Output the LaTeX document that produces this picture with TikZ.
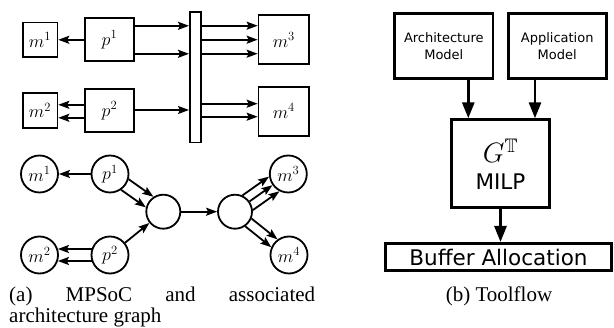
\RequirePackage{fix-cm}
\documentclass[tikz,border=0pt]{standalone}
\usepackage{amssymb}
\usepackage{fontspec}
\newfontfamily\capfont{Liberation Serif}
\newfontfamily\boxfont{DejaVu Sans}
\usetikzlibrary{arrows.meta,calc}
\newcommand\parr[5]{\draw[la,shorten <=#4pt,shorten >=#5pt] ($(#1)!#3!90:(#2)$) -- ($(#2)!#3!-90:(#1)$);}
\newcommand\capsetup{\capfont\fontsize{21}{21}\selectfont}
\begin{document}
\begin{tikzpicture}[x=1pt,y=-1pt,
  bx/.style={draw, line width=1.8pt, inner sep=0pt, font=\fontsize{18}{20}\selectfont},
  cn/.style={draw, circle, line width=1.8pt, inner sep=0pt, minimum size=37pt, font=\fontsize{18}{20}\selectfont},
  cs/.style={draw, circle, line width=1.8pt, inner sep=0pt, minimum size=34pt},
  la/.style={line width=1.8pt, -{Stealth[length=11pt,width=8pt,inset=2pt]}},
  rb/.style={draw, line width=2.8pt, inner sep=0pt, align=center, font=\boxfont\fontsize{13}{16.7}\selectfont},
  ra/.style={line width=2.8pt, -{Triangle[length=16pt,width=12pt]}},
  captxt/.style={font=\capsetup, inner sep=0pt}
]
\useasboundingbox (0,0) rectangle (614,328);
% ---------- MPSoC ----------
\node[bx, minimum width=34.8pt, minimum height=34.8pt] (m1) at (40,40) {$m^1$};
\node[bx, minimum width=34.8pt, minimum height=34.8pt] (m2) at (40,110.3) {$m^2$};
\node[bx, minimum width=49.2pt, minimum height=43.2pt] (p1) at (109.5,39.8) {$p^1$};
\node[bx, minimum width=49.2pt, minimum height=43.2pt] (p2) at (109.5,110.8) {$p^2$};
\node[bx, minimum width=11.2pt, minimum height=130.5pt] (bus) at (195.5,77.2) {};
\node[bx, minimum width=50.5pt, minimum height=48.9pt] (m3) at (283.8,39.7) {$m^3$};
\node[bx, minimum width=50.5pt, minimum height=48.9pt] (m4) at (283.8,111.2) {$m^4$};

\draw[la] (p1.west) -- (p1.west -| m1.east);
\foreach \o in {-14,14}
  \draw[la] ($(p1.east)+(0,\o)$) -- ($(bus.west |- p1.east)+(0,\o)$);
\foreach \o in {-14,0,14}
  \draw[la] ($(bus.east |- m3.west)+(0,\o)$) -- ($(m3.west)+(0,\o)$);
\foreach \o in {-6,7}
  \draw[la] ($(p2.west)+(0,\o)$) -- ($(m2.east |- p2.west)+(0,\o)$);
\draw[la] ($(p2.east)+(0,-0.8)$) -- ($(bus.west |- p2.east)+(0,-0.8)$);
\foreach \o in {-7.5,5.5}
  \draw[la] ($(bus.east |- m4.west)+(0,\o)$) -- ($(m4.west)+(0,\o)$);

% ---------- architecture graph ----------
\node[cn] (cm1) at (39.5,174) {$m^1$};
\node[cn] (cp1) at (110,174) {$p^1$};
\node[cn] (cm2) at (39.5,255) {$m^2$};
\node[cn] (cp2) at (110,255) {$p^2$};
\node[cs] (cl) at (163.3,211.7) {};
\node[cs] (cr) at (235,211.7) {};
\node[cn] (cm3) at (288.3,174) {$m^3$};
\node[cn] (cm4) at (289,255) {$m^4$};

\draw[la] (cp1) -- (cm1);
\parr{cp1}{cl}{6.5pt}{18.2}{16.7}
\parr{cp1}{cl}{-6.5pt}{18.2}{16.7}
\parr{cp2}{cm2}{6pt}{18.4}{18.4}
\parr{cp2}{cm2}{-6pt}{18.4}{18.4}
\draw[la] (cp2) -- (cl);
\draw[la] (cl) -- (cr);
\parr{cr}{cm3}{9pt}{15.5}{17.2}
\parr{cr}{cm3}{0pt}{17.9}{19.4}
\parr{cr}{cm3}{-9pt}{15.5}{17.2}
\parr{cr}{cm4}{5pt}{17.2}{18.7}
\parr{cr}{cm4}{-5pt}{17.2}{18.7}

% ---------- toolflow ----------
\node[rb, minimum width=98.2pt, minimum height=64.9pt] (arch) at (443.8,46.2) {Architecture\\Model};
\node[rb, minimum width=98.2pt, minimum height=64.9pt] (app) at (557.2,46.2) {Application\\Model};
\node[rb, minimum width=98.2pt, minimum height=88.2pt] (milp) at (500.5,163.8) {};
\node[inner sep=0pt, font=\fontsize{28}{30}\selectfont] (gt) at (500.5,151) {$G^{\mathbb{T}}$};
\node[inner sep=0pt, font=\boxfont\fontsize{21.5}{24}\selectfont] (milpt) at (500.5,182) {MILP};
\node[rb, minimum width=226.2pt, minimum height=27.2pt, font=\boxfont\fontsize{21.5}{24}\selectfont] (buf) at (498.5,257) {Buffer Allocation};

\draw[ra] ($(arch.south)+(24.5,0)$) coordinate (a1) -- (a1 |- milp.north);
\draw[ra] ($(app.south)+(-22.2,0)$) coordinate (a2) -- (a2 |- milp.north);
\draw[ra] (milp.south) -- (milp.south |- buf.north);

% ---------- captions ----------
\node[captxt, anchor=north west, align=left] (capa) at (9,286.5) {\makebox[306pt][s]{(a) MPSoC and associated}\\architecture graph};
\node[captxt, anchor=north] (capb) at (499,286.5) {(b) Toolflow};
\end{tikzpicture}
\end{document}
